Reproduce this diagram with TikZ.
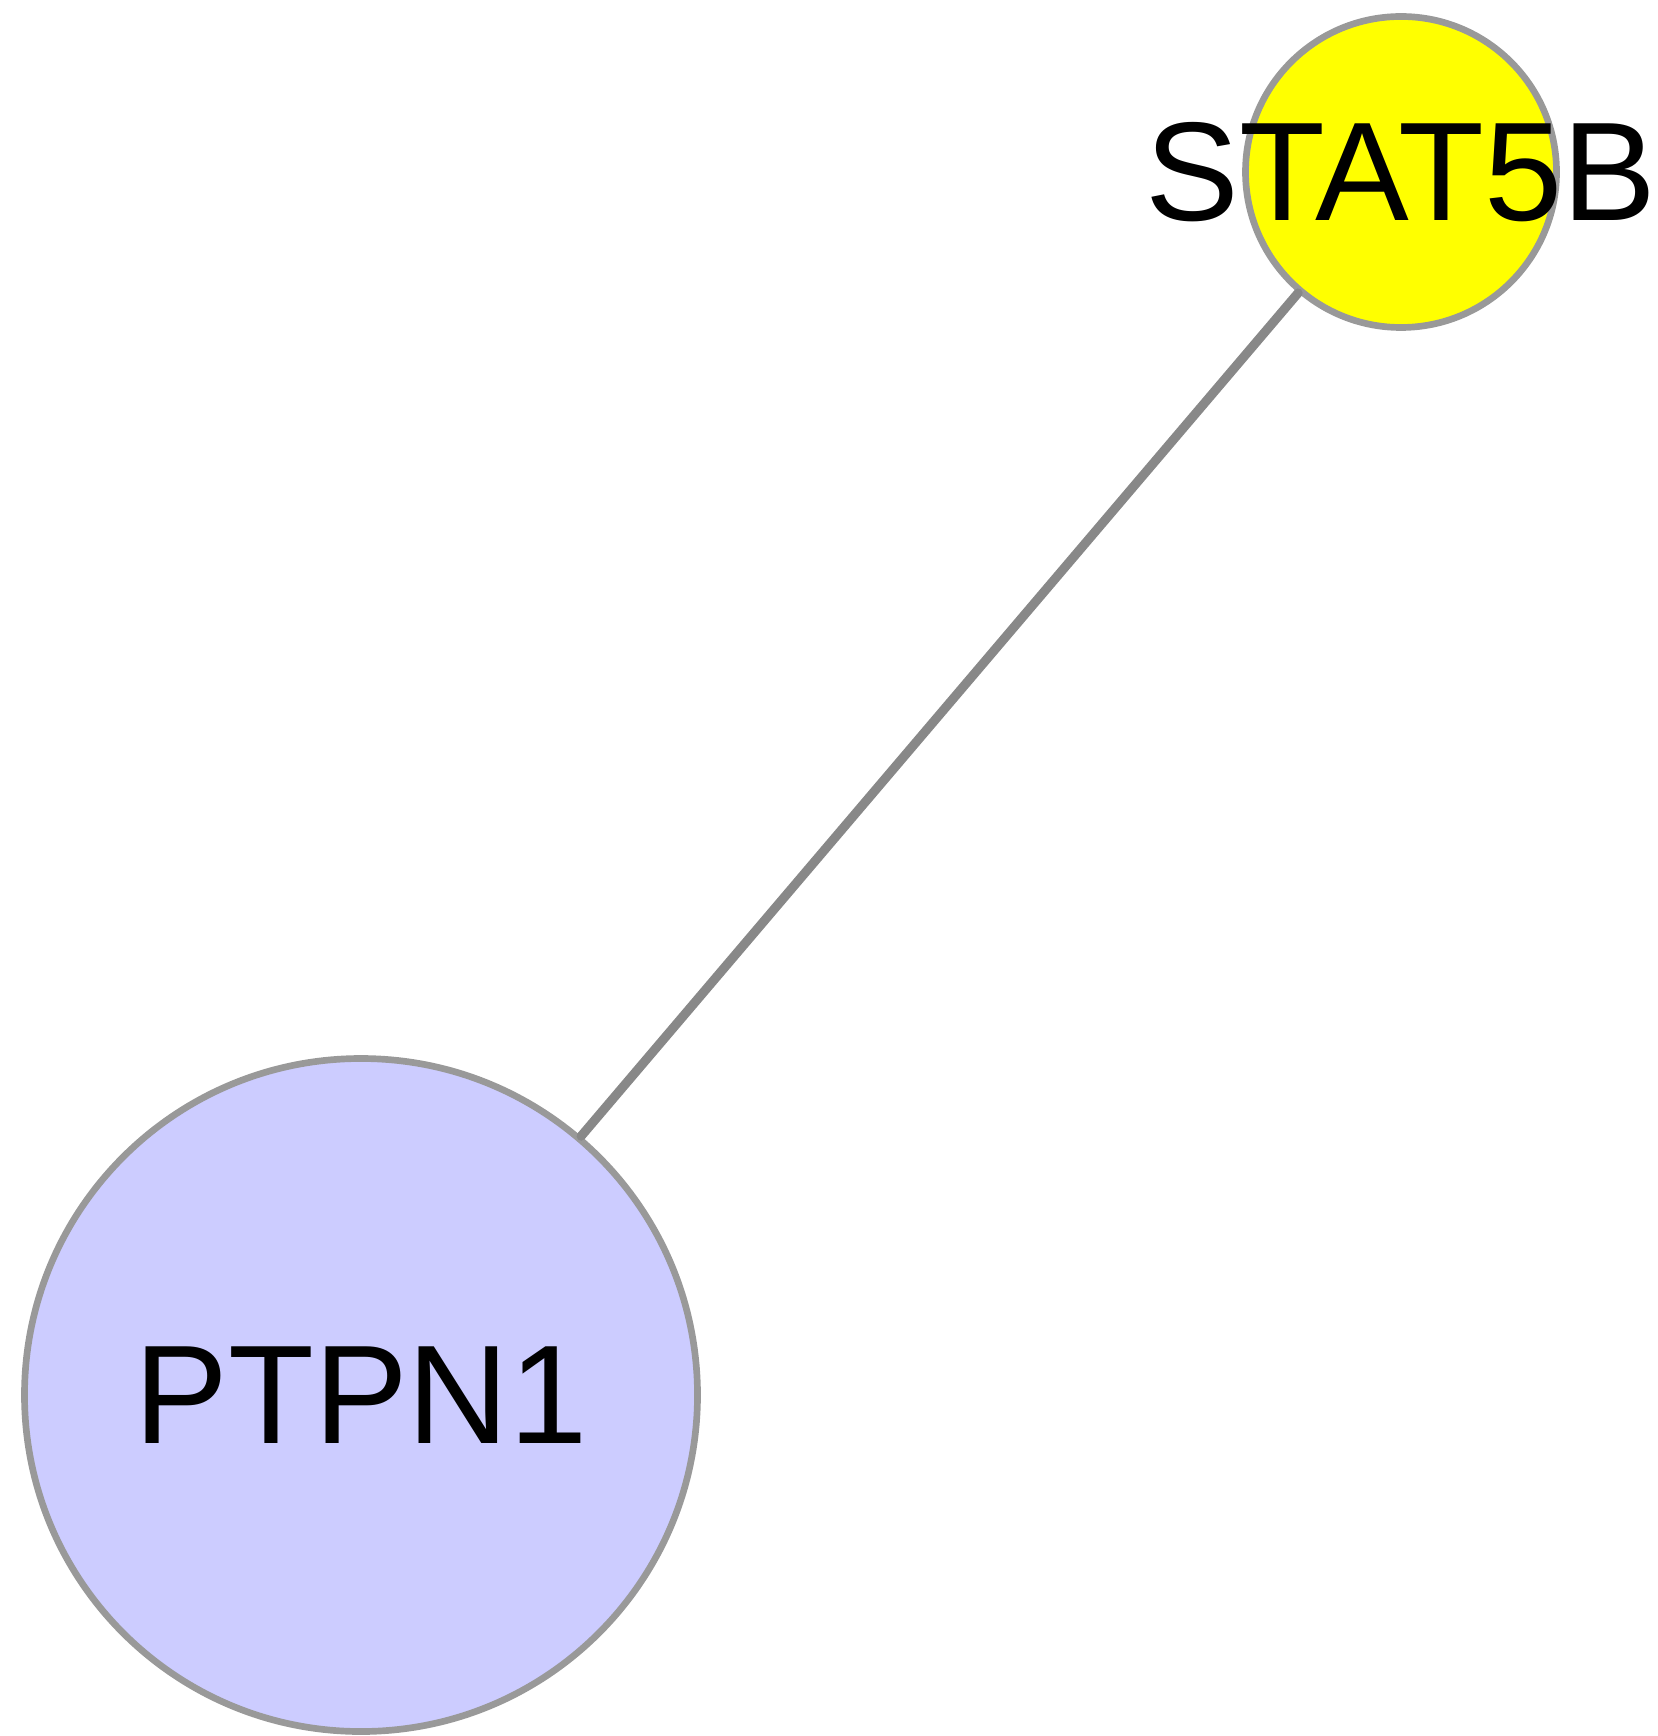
\documentclass[tikz,border=0pt]{standalone}
\usepackage{fontspec}
\setmainfont{Liberation Sans}
\usepackage{xcolor}
\usepackage{tikz}
\usetikzlibrary{positioning}
\definecolor{nodeborder}{HTML}{999999}
\definecolor{edgegray}{HTML}{888888}
\definecolor{lavender}{HTML}{CCCCFF}
\definecolor{geneyellow}{HTML}{FFFF00}

\begin{document}
\begin{tikzpicture}[
    gene/.style={circle, draw=nodeborder, line width=1.9pt, inner sep=0pt, label={[font=\fontsize{40}{48}\selectfont]center:#1}},
    bignode/.style={gene=#1, fill=lavender, minimum size=6.73cm},
    smallnode/.style={gene=#1, fill=geneyellow, minimum size=3.11cm},
    edge/.style={edgegray, line width=2.6pt, line cap=round},
]
\useasboundingbox (0,0) rectangle (16.57,-17.36);
\node[bignode=PTPN1] (ptpn1) at (3.61,-13.95) {};
\node[smallnode=STAT5B] (stat5b) at (14.01,-1.72) {};
\draw[edge] (ptpn1) -- (stat5b);
\end{tikzpicture}
\end{document}
